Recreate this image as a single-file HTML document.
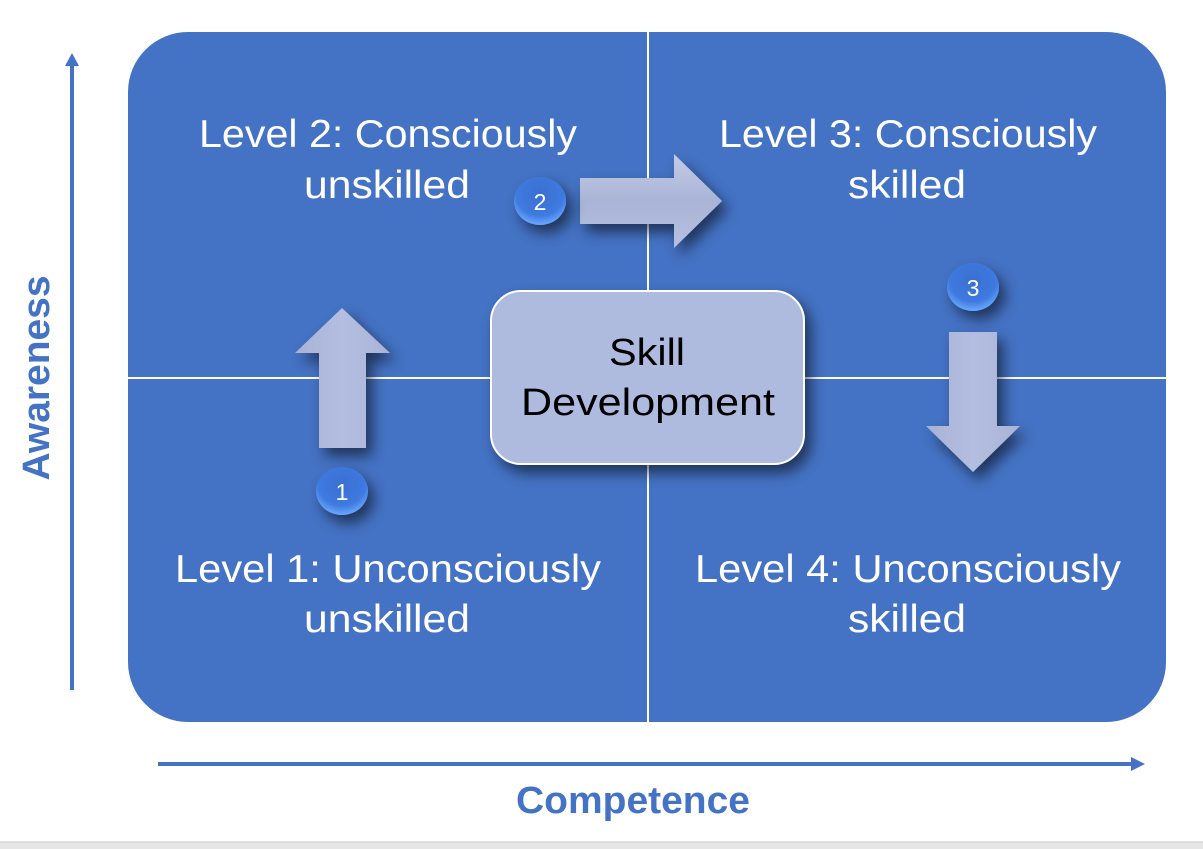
<!DOCTYPE html>
<html><head><meta charset="utf-8"><style>
html,body{margin:0;padding:0;background:#fff;}
svg{display:block;}
</style></head><body>
<svg width="1203" height="849" viewBox="0 0 1203 849" xmlns="http://www.w3.org/2000/svg">
<defs>
<filter id="sh" x="-50%" y="-50%" width="200%" height="200%">
<feGaussianBlur in="SourceAlpha" stdDeviation="7"/>
<feOffset dx="6" dy="8"/>
<feComponentTransfer><feFuncA type="linear" slope="0.55"/></feComponentTransfer>
<feMerge><feMergeNode/><feMergeNode in="SourceGraphic"/></feMerge>
</filter>
<linearGradient id="arrH" x1="0" y1="0" x2="0" y2="1">
<stop offset="0" stop-color="#c3cbe6"/><stop offset="0.5" stop-color="#aab4d6"/><stop offset="1" stop-color="#b6c0e0"/>
</linearGradient>
<linearGradient id="arrV" x1="0" y1="0" x2="1" y2="0">
<stop offset="0" stop-color="#a8b2d4"/><stop offset="0.5" stop-color="#b4bee0"/><stop offset="1" stop-color="#aab4d6"/>
</linearGradient>
<radialGradient id="bd" cx="0.5" cy="0.35" r="0.65">
<stop offset="0" stop-color="#3a6fd0"/><stop offset="0.7" stop-color="#3f7ae0"/><stop offset="1" stop-color="#6aa8ff"/>
</radialGradient>
</defs>
<rect x="0" y="842" width="1203" height="7" fill="#e6e6e6"/>
<line x1="0" y1="842" x2="1203" y2="842" stroke="#c8c8c8" stroke-width="1"/>
<rect x="128" y="32" width="1038" height="690" rx="60" ry="60" fill="#4472c4"/>
<line x1="648" y1="32" x2="648" y2="722" stroke="#fff" stroke-width="2"/>
<line x1="128" y1="378" x2="1166" y2="378" stroke="#fff" stroke-width="2"/>
<line x1="72" y1="690" x2="72" y2="64" stroke="#4472c4" stroke-width="4"/>
<polygon points="72,53 65,66 79,66" fill="#4472c4"/>
<line x1="158" y1="764" x2="1132" y2="764" stroke="#4472c4" stroke-width="4"/>
<polygon points="1145,764 1131,757 1131,771" fill="#4472c4"/>
<text x="633" y="813" text-anchor="middle" font-family="Liberation Sans, sans-serif" font-weight="bold" font-size="38" fill="#4472c4" textLength="234" lengthAdjust="spacingAndGlyphs">Competence</text>
<text transform="translate(49,378) rotate(-90)" text-anchor="middle" font-family="Liberation Sans, sans-serif" font-weight="bold" font-size="38" fill="#4472c4" textLength="205" lengthAdjust="spacingAndGlyphs">Awareness</text>
<g font-family="Liberation Sans, sans-serif" font-size="39" fill="#fff" text-anchor="middle">
<text x="388" y="147" textLength="378" lengthAdjust="spacingAndGlyphs">Level 2: Consciously</text>
<text x="387" y="198" textLength="166" lengthAdjust="spacingAndGlyphs">unskilled</text>
<text x="908" y="147" textLength="378" lengthAdjust="spacingAndGlyphs">Level 3: Consciously</text>
<text x="907" y="198" textLength="118" lengthAdjust="spacingAndGlyphs">skilled</text>
<text x="388" y="582" textLength="426" lengthAdjust="spacingAndGlyphs">Level 1: Unconsciously</text>
<text x="387" y="632" textLength="166" lengthAdjust="spacingAndGlyphs">unskilled</text>
<text x="908" y="582" textLength="426" lengthAdjust="spacingAndGlyphs">Level 4: Unconsciously</text>
<text x="907" y="632" textLength="118" lengthAdjust="spacingAndGlyphs">skilled</text>
</g>
<rect x="491" y="291" width="313" height="173" rx="30" fill="#aebbde" stroke="#fff" stroke-width="2" filter="url(#sh)"/>
<g font-family="Liberation Sans, sans-serif" font-size="38" fill="#000" text-anchor="middle">
<text x="647" y="365" textLength="76" lengthAdjust="spacingAndGlyphs">Skill</text>
<text x="648" y="415" textLength="254" lengthAdjust="spacingAndGlyphs">Development</text>
</g>
<polygon points="319,448 319,353 295,353 342,308 390,353 366,353 366,448" fill="url(#arrV)" filter="url(#sh)"/>
<polygon points="580,178 674,178 674,154 722,201 674,248 674,224 580,224" fill="url(#arrH)" filter="url(#sh)"/>
<polygon points="949,332 997,332 997,426 1020,426 973,472 926,426 949,426" fill="url(#arrV)" filter="url(#sh)"/>
<g font-family="Liberation Sans, sans-serif" font-size="23" fill="#fff" text-anchor="middle">
<ellipse cx="342" cy="491" rx="26" ry="24" fill="url(#bd)" filter="url(#sh)"/>
<text x="342" y="500">1</text>
<ellipse cx="540" cy="201" rx="26" ry="24" fill="url(#bd)" filter="url(#sh)"/>
<text x="540" y="210">2</text>
<ellipse cx="973" cy="287" rx="26" ry="24" fill="url(#bd)" filter="url(#sh)"/>
<text x="973" y="296">3</text>
</g>
</svg>
</body></html>
